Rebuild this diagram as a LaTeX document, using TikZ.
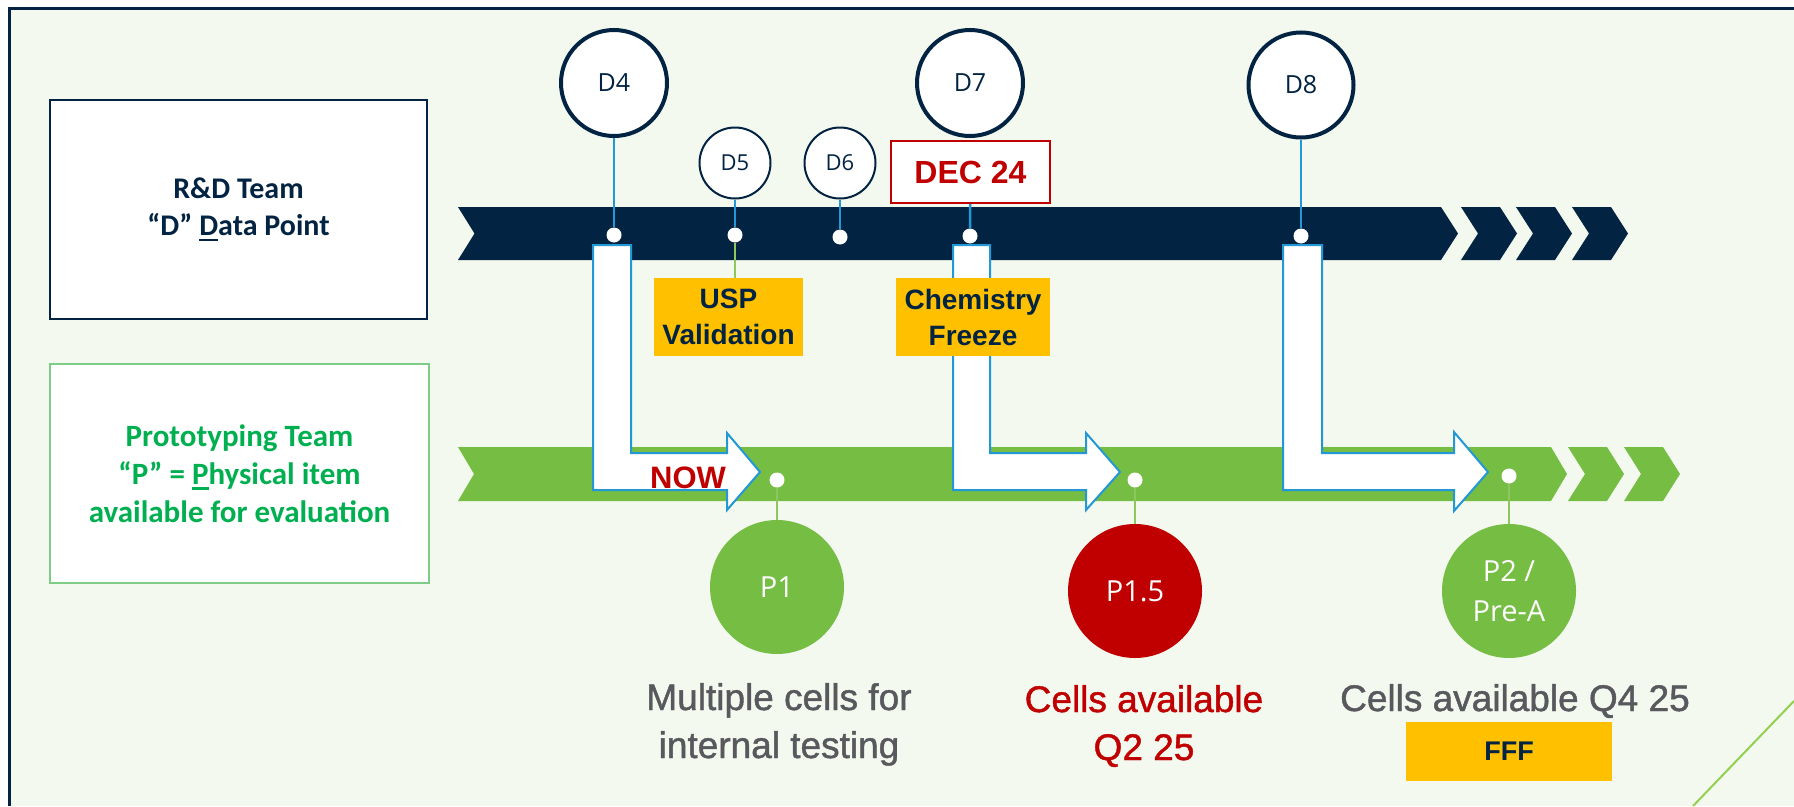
\documentclass[tikz,border=0pt]{standalone}
\usepackage{fontspec}
\setmainfont{Liberation Sans}
\newfontfamily\carl{Carlito}
\newfontfamily\osans{Open Sans}
\newfontfamily\medsans[FakeBold=1.2]{Liberation Sans}
\definecolor{navy}{RGB}{2,36,66}
\definecolor{bandgreen}{RGB}{118,189,68}
\definecolor{bgcol}{RGB}{243,249,239}
\definecolor{redc}{RGB}{192,0,0}
\definecolor{gold}{RGB}{255,192,0}
\definecolor{sblue}{RGB}{35,152,214}
\definecolor{lgreen}{RGB}{140,200,95}
\definecolor{txtgreen}{RGB}{0,176,80}
\definecolor{boxgreen}{RGB}{125,205,135}
\definecolor{graytxt}{RGB}{88,88,93}
\definecolor{diaggreen}{RGB}{146,208,80}
\newcommand\myul[1]{\leavevmode\setbox0\hbox{#1}\rlap{\raisebox{-5.5pt}{\rule{\wd0}{2.5pt}}}\box0}
\begin{document}
\begin{tikzpicture}[x=1pt,y=-1pt,
  dbig/.style={circle, draw=navy, line width=4pt, fill=white, minimum size=106pt, inner sep=0pt, text=navy, font=\osans\fontsize{25}{28}\selectfont},
  dsmall/.style={circle, draw=navy, line width=2pt, fill=white, minimum size=71pt, inner sep=0pt, text=navy, font=\osans\fontsize{22}{26}\selectfont},
  wdot/.style={circle, fill=white, minimum size=15pt, inner sep=0pt},
  dstem/.style={draw=sblue, line width=2.5pt},
  pstem/.style={draw=lgreen, line width=2.5pt},
  pcirc/.style={circle, minimum size=134pt, inner sep=0pt, text=white, align=center, font=\osans\fontsize{29}{40}\selectfont},
  goldbox/.style={fill=gold, inner sep=0pt, text=navy, align=center, font=\bfseries\fontsize{28}{36}\selectfont},
  bigtxt/.style={anchor=base, inner sep=0pt, font=\medsans\fontsize{37}{48}\selectfont},
  blockarrow/.style={fill=white, draw=sblue, line width=2pt, line join=miter}
]
\useasboundingbox (0,0) rectangle (1794,806);
% background and frame
\fill[white] (0,0) rectangle (1794,806);
\fill[bgcol] (9.5,8) rectangle (1794,806);
\coordinate (fbl) at (9.5,806);
\coordinate (ftl) at (9.5,8);
\coordinate (ftr) at (1794,8);
\draw[navy, line width=3pt] (fbl) -- (ftl) -- (ftr);
\coordinate (g1) at (1693,806);
\coordinate (g2) at (1794,701);
\draw[diaggreen, line width=2pt] (g1) -- (g2);

% team boxes
\node[draw=navy, line width=1.5pt, fill=white, minimum width=377pt, minimum height=219pt, align=center, text=navy, font=\carl\bfseries\fontsize{30}{37}\selectfont] (rd) at (238.5,209.5) {R\&D Team\\“D” \myul{D}ata Point};
\node[draw=boxgreen, line width=2pt, fill=white, minimum width=379pt, minimum height=219pt, align=center, text=txtgreen, font=\carl\bfseries\fontsize{31}{38}\selectfont] (pt) at (239.5,473.5) {Prototyping Team\\“P” = \myul{P}hysical item\\available for evaluation};

% navy band
\fill[navy] (458,207) -- (1441,207) -- (1458,233.5) -- (1441,260) -- (458,260) -- (474.5,233.5) -- cycle;
\foreach \a in {1461,1516,1572}{
  \fill[navy] (\a,207) -- (\a+39,207) -- (\a+56,233.5) -- (\a+39,260) -- (\a,260) -- (\a+17,233.5) -- cycle;
}
% green band
\fill[bandgreen] (458,447) -- (1551,447) -- (1567,474) -- (1551,501) -- (458,501) -- (474,474) -- cycle;
\foreach \a in {1568,1624}{
  \fill[bandgreen] (\a,447) -- (\a+39,447) -- (\a+56,474) -- (\a+39,501) -- (\a,501) -- (\a+17,474) -- cycle;
}

% block arrows
\draw[blockarrow] (593,245) -- (631,245) -- (631,453) -- (727,453) -- (727,433) -- (760,472) -- (727,510) -- (727,490) -- (593,490) -- cycle;
\draw[blockarrow] (953,245) -- (990,245) -- (990,453) -- (1086,453) -- (1086,433) -- (1120,472) -- (1086,510) -- (1086,490) -- (953,490) -- cycle;
\draw[blockarrow] (1283,245) -- (1322,245) -- (1322,453) -- (1454,453) -- (1454,432) -- (1488,472) -- (1454,511) -- (1454,490) -- (1283,490) -- cycle;

% D milestones
\node[dbig] (d4) at (614,83) {D4};
\node[dsmall] (d5) at (735,163) {D5};
\node[dsmall] (d6) at (840,163) {D6};
\node[dbig] (d7) at (970,83) {D7};
\node[dbig, minimum size=105pt] (d8) at (1301,85) {D8};
\node[draw=redc, line width=2pt, fill=white, minimum width=159pt, minimum height=62pt, inner sep=0pt, text=redc, font=\bfseries\fontsize{32}{36}\selectfont] (dec) at (970.5,172) {DEC 24};

\node[wdot] (d4dot) at (614,235) {};
\node[wdot] (d5dot) at (735,235) {};
\node[wdot] (d6dot) at (840,237) {};
\node[wdot] (d7dot) at (970,236) {};
\node[wdot] (d8dot) at (1301,236) {};

\draw[dstem] (d4) -- (d4dot);
\draw[dstem] (d5) -- (d5dot);
\draw[dstem] (d6) -- (d6dot);
\draw[dstem] (dec) -- (d7dot);
\draw[dstem] (d8) -- (d8dot);

% gold boxes
\node[goldbox, minimum width=149pt, minimum height=78pt] (usp) at (728.5,317) {USP\\Validation};
\node[goldbox, minimum width=154pt, minimum height=78pt] (chem) at (973,317) {Chemistry\\Freeze};
\draw[pstem, line width=2pt] (d5dot) -- (d5dot |- usp.north);

% NOW
\node[anchor=base, inner sep=0pt, text=redc, font=\bfseries\fontsize{31}{36}\selectfont] (now) at (688,488) {NOW};

% P milestones
\node[wdot] (p1dot) at (777,480) {};
\node[wdot] (p15dot) at (1135,480) {};
\node[wdot] (p2dot) at (1509,476) {};
\node[pcirc, fill=bandgreen] (p1) at (777,587) {P1};
\node[pcirc, fill=redc] (p15) at (1135,591) {P1.5};
\node[pcirc, fill=bandgreen] (p2) at (1509,591) {P2 /\\Pre-A};
\draw[pstem] (p1dot) -- (p1);
\draw[pstem] (p15dot) -- (p15);
\draw[pstem] (p2dot) -- (p2);

% bottom texts
\node[bigtxt, text=graytxt] (m1) at (779,710) {Multiple cells for};
\node[bigtxt, text=graytxt] (m2) at (779,758) {internal testing};
\node[bigtxt, text=redc] (c1) at (1144,712) {Cells available};
\node[bigtxt, text=redc] (c2) at (1144,760) {Q2 25};
\node[bigtxt, text=graytxt] (q4) at (1515,711) {Cells available Q4 25};
\node[fill=gold, minimum width=206pt, minimum height=59pt, inner sep=0pt, text=navy, font=\bfseries\fontsize{27}{30}\selectfont] (fff) at (1509,751.5) {FFF};
\end{tikzpicture}
\end{document}
